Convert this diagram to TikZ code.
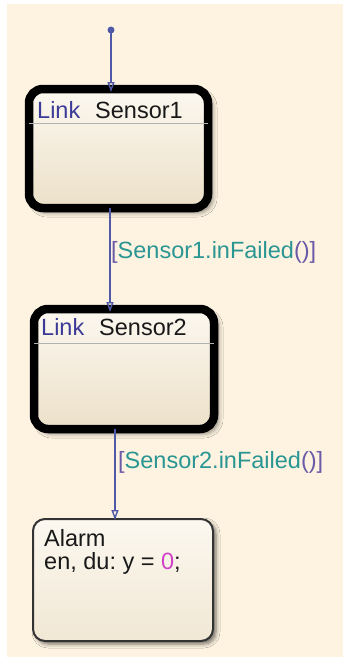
\documentclass[tikz,border=0pt]{standalone}
\usepackage{fontspec}
\setmainfont{Liberation Sans}
\usetikzlibrary{arrows.meta,shadows.blur,calc}
\frenchspacing
\definecolor{bgcream}{HTML}{FDF3E0}
\definecolor{linkblue}{HTML}{3C3C98}
\definecolor{wire}{HTML}{5058A8}
\definecolor{teal}{HTML}{2A9694}
\definecolor{brack}{HTML}{6A5AA8}
\definecolor{topfill}{HTML}{FCF8F0}
\definecolor{botfill}{HTML}{ECE0C8}
\definecolor{magen}{HTML}{D040C8}
\begin{document}
\begin{tikzpicture}[x=1pt,y=-1pt,
  txt/.style={font=\fontsize{23.5}{27}\selectfont, inner sep=0pt, anchor=west},
  boxstate/.style={draw=black, line width=8.5pt, rounded corners=14pt, outer sep=0pt, inner sep=0pt,
     top color=topfill, bottom color=botfill,
     blur shadow={shadow xshift=4pt, shadow yshift=-4pt, shadow blur radius=5pt, shadow opacity=55}},
  plainstate/.style={draw=black!80, line width=2pt, rounded corners=12pt, outer sep=0pt, inner sep=0pt,
     top color=topfill, bottom color=botfill!70!topfill,
     blur shadow={shadow xshift=3pt, shadow yshift=-3pt, shadow blur radius=4pt, shadow opacity=55}},
  wireline/.style={draw=wire, line width=1.4pt, -{Triangle[open, length=10pt, width=7pt]}},
]
\useasboundingbox (0,0) rectangle (343,657);
\fill[white] (0,0) rectangle (343,657);
\fill[bgcream] (7,4) rectangle (343,657);

% states
\node[boxstate, minimum width=179pt, minimum height=119pt] (s1) at (118.5,148.5) {};
\node[boxstate, minimum width=180pt, minimum height=120pt] (s2) at (124,369) {};
\node[plainstate, minimum width=180pt, minimum height=122pt] (al) at (123,580) {};

% header separators
\draw[black!30, line width=0.8pt] (s1.west |- 0,123) -- (s1.east |- 0,123);
\draw[black!30, line width=0.8pt] (s2.west |- 0,343) -- (s2.east |- 0,343);

% state texts
\node[txt, text=linkblue] (l1) at (37,110) {Link};
\node[txt, text=black!90] (n1) at (95,110) {Sensor1};
\node[txt, text=linkblue] (l2) at (41,327) {Link};
\node[txt, text=black!90] (n2) at (99,327) {Sensor2};
\node[txt, text=black!90] (a1) at (44,538) {Alarm};
\node[txt, text=black!90] (a2) at (44,563) {en, du: y = \textcolor{magen}{0};};

% default transition
\fill[wire] (111,30) circle (3.5pt);
\coordinate (init) at (111,30);
\draw[wireline] (init) -- ($(init |- s1.north)+(0,3)$);

% transitions
\coordinate (t1) at (110,0);
\coordinate (t2) at (115,0);
\draw[wireline] (s1.south -| t1) -- ($(s2.north -| t1)+(0,3)$);
\draw[wireline] (s2.south -| t2) -- ($(al.north -| t2)+(0,1)$);

\node[txt] (g1) at (111,252) {\textcolor{brack}{[}\textcolor{teal}{Sensor1.inFailed}\textcolor{brack}{()]}};
\node[txt] (g2) at (118,462) {\textcolor{brack}{[}\textcolor{teal}{Sensor2.inFailed}\textcolor{brack}{()]}};
\end{tikzpicture}
\end{document}
